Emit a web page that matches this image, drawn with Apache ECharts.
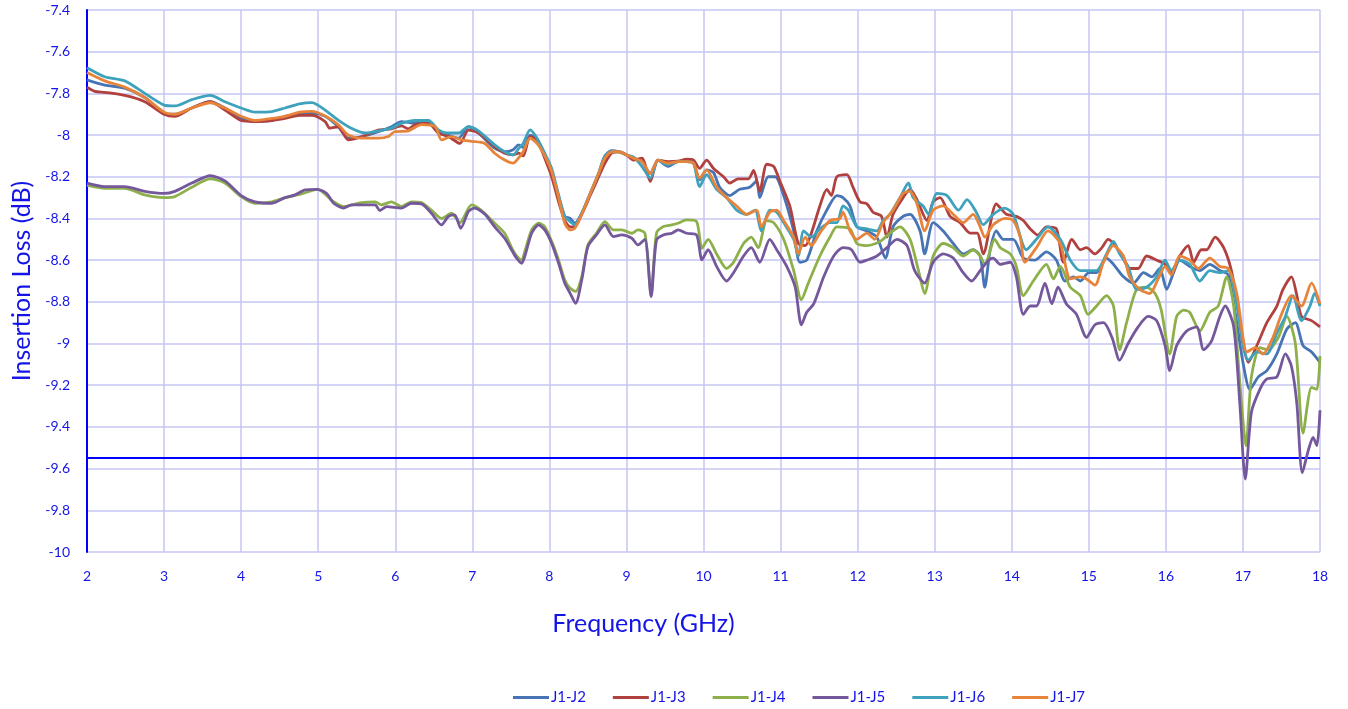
<!DOCTYPE html>
<html>
<head>
<meta charset="utf-8">
<script src="https://cdn.jsdelivr.net/npm/echarts@6/dist/echarts.min.js"></script>
<style>html,body{margin:0;padding:0;background:#fff}#c{width:1348px;height:709px}</style>
</head>
<body>
<div id="c"></div>
<script>
// ---- DATA ----
const seriesNames = ['J1-J2', 'J1-J3', 'J1-J4', 'J1-J5', 'J1-J6', 'J1-J7'];
const limitLoss = -9.55;
const xTicks = [2, 18, 1];
const yTicks = [-10, -7.4, 0.2];

const j2Freq = [2.0,2.23,2.49,2.75,3.0,3.14,3.36,3.6,3.79,4.0,4.18,4.4,4.57,4.76,4.92,5.09,5.26,5.39,5.56,5.78,5.95,6.08,6.26,6.43,6.56,6.69,6.82,6.95,7.08,7.29,7.42,7.53,7.6,7.66,7.75,7.84,7.94,8.03,8.12,8.2,8.27,8.33,8.42,8.53,8.64,8.72,8.81,8.9,9.0,9.09,9.2,9.31,9.41,9.54,9.67,9.78,9.87,9.95,10.04,10.13,10.21,10.34,10.47,10.6,10.69,10.73,10.84,10.93,11.04,11.17,11.25,11.34,11.47,11.6,11.73,11.81,11.9,11.99,12.12,12.25,12.36,12.46,12.59,12.68,12.81,12.87,12.98,13.11,13.24,13.37,13.5,13.59,13.65,13.72,13.8,13.89,14.02,14.15,14.3,14.45,14.58,14.69,14.8,14.89,15.0,15.1,15.23,15.32,15.45,15.58,15.71,15.82,15.92,16.01,16.1,16.18,16.31,16.44,16.57,16.7,16.81,16.92,17.0,17.09,17.2,17.31,17.44,17.57,17.68,17.78,17.89,18.0];
const j2Loss = [-7.735,-7.76,-7.775,-7.82,-7.895,-7.90,-7.87,-7.84,-7.87,-7.92,-7.935,-7.93,-7.91,-7.90,-7.895,-7.91,-7.96,-8.015,-8.008,-7.984,-7.96,-7.935,-7.944,-7.935,-7.984,-8.0,-8.015,-7.96,-7.99,-8.063,-8.08,-8.07,-8.047,-8.06,-8.0,-8.02,-8.10,-8.175,-8.295,-8.39,-8.40,-8.423,-8.375,-8.28,-8.183,-8.10,-8.075,-8.08,-8.095,-8.111,-8.127,-8.183,-8.12,-8.15,-8.127,-8.127,-8.135,-8.215,-8.167,-8.18,-8.25,-8.29,-8.26,-8.25,-8.22,-8.30,-8.20,-8.20,-8.29,-8.46,-8.61,-8.60,-8.46,-8.36,-8.29,-8.30,-8.34,-8.44,-8.46,-8.49,-8.59,-8.44,-8.39,-8.38,-8.46,-8.57,-8.42,-8.46,-8.52,-8.57,-8.55,-8.58,-8.73,-8.55,-8.46,-8.50,-8.50,-8.59,-8.60,-8.56,-8.60,-8.70,-8.68,-8.70,-8.66,-8.66,-8.59,-8.62,-8.68,-8.71,-8.66,-8.68,-8.64,-8.74,-8.66,-8.60,-8.63,-8.65,-8.62,-8.65,-8.67,-8.90,-9.09,-9.22,-9.16,-9.13,-9.05,-8.93,-8.90,-9.01,-9.04,-9.09];

const j3Freq = [2.0,2.1,2.23,2.49,2.75,3.0,3.14,3.36,3.6,3.79,4.0,4.18,4.4,4.57,4.76,4.92,5.09,5.15,5.26,5.39,5.56,5.78,5.95,6.08,6.17,6.26,6.43,6.56,6.69,6.84,6.95,7.08,7.29,7.42,7.53,7.6,7.66,7.75,7.84,7.94,8.03,8.12,8.2,8.27,8.33,8.42,8.53,8.64,8.72,8.81,8.9,9.0,9.09,9.2,9.31,9.41,9.54,9.67,9.78,9.87,9.95,10.04,10.13,10.26,10.34,10.45,10.58,10.65,10.73,10.82,10.91,10.99,11.12,11.23,11.32,11.4,11.51,11.6,11.66,11.73,11.86,11.94,12.03,12.12,12.2,12.31,12.38,12.46,12.59,12.68,12.77,12.9,12.98,13.07,13.2,13.33,13.46,13.55,13.63,13.8,13.93,14.06,14.15,14.24,14.34,14.45,14.58,14.67,14.78,14.89,14.97,15.08,15.17,15.25,15.32,15.43,15.53,15.64,15.75,15.88,15.99,16.07,16.18,16.29,16.36,16.46,16.53,16.64,16.75,16.85,16.94,17.0,17.07,17.18,17.31,17.44,17.52,17.63,17.7,17.76,17.89,18.0];
const j3Loss = [-7.77,-7.79,-7.795,-7.81,-7.84,-7.90,-7.91,-7.87,-7.84,-7.88,-7.93,-7.935,-7.93,-7.92,-7.905,-7.905,-7.935,-7.967,-7.96,-8.023,-8.008,-7.976,-7.97,-7.956,-7.97,-7.95,-7.944,-7.99,-8.007,-8.04,-7.976,-7.99,-8.055,-8.087,-8.095,-8.087,-8.10,-8.007,-8.023,-8.111,-8.20,-8.32,-8.41,-8.44,-8.44,-8.38,-8.29,-8.20,-8.135,-8.085,-8.08,-8.095,-8.12,-8.111,-8.223,-8.12,-8.127,-8.125,-8.116,-8.12,-8.16,-8.12,-8.16,-8.20,-8.23,-8.21,-8.21,-8.17,-8.27,-8.14,-8.15,-8.22,-8.34,-8.52,-8.53,-8.47,-8.34,-8.26,-8.29,-8.20,-8.19,-8.25,-8.32,-8.33,-8.37,-8.39,-8.49,-8.38,-8.30,-8.26,-8.31,-8.41,-8.32,-8.30,-8.39,-8.42,-8.47,-8.47,-8.57,-8.33,-8.38,-8.39,-8.41,-8.45,-8.48,-8.44,-8.45,-8.61,-8.50,-8.55,-8.54,-8.57,-8.54,-8.50,-8.52,-8.58,-8.64,-8.64,-8.58,-8.60,-8.62,-8.66,-8.58,-8.53,-8.61,-8.55,-8.55,-8.49,-8.54,-8.65,-8.84,-9.0,-9.09,-9.01,-8.90,-8.82,-8.74,-8.68,-8.77,-8.87,-8.89,-8.92];

const j4Freq = [2.0,2.23,2.49,2.75,3.0,3.14,3.36,3.6,3.79,4.0,4.18,4.4,4.57,4.76,4.99,5.2,5.33,5.56,5.74,5.82,5.95,6.08,6.21,6.34,6.47,6.6,6.73,6.84,6.99,7.12,7.29,7.42,7.51,7.575,7.64,7.68,7.77,7.86,7.94,8.03,8.12,8.2,8.27,8.34,8.42,8.5,8.61,8.72,8.83,8.94,9.07,9.15,9.24,9.32,9.39,9.48,9.59,9.67,9.78,9.91,9.98,10.06,10.17,10.3,10.39,10.52,10.62,10.71,10.82,10.91,11.04,11.17,11.27,11.36,11.51,11.64,11.73,11.9,11.99,12.12,12.29,12.42,12.55,12.68,12.79,12.87,12.98,13.11,13.24,13.37,13.5,13.59,13.65,13.78,13.85,13.98,14.06,14.15,14.28,14.45,14.54,14.63,14.76,14.89,14.99,15.1,15.23,15.32,15.4,15.49,15.62,15.75,15.86,15.94,16.05,16.14,16.23,16.31,16.44,16.57,16.68,16.79,16.88,16.96,17.04,17.11,17.22,17.33,17.46,17.57,17.68,17.78,17.89,17.96,18.0];
const j4Loss = [-8.24,-8.255,-8.255,-8.287,-8.30,-8.295,-8.25,-8.21,-8.23,-8.295,-8.327,-8.32,-8.30,-8.285,-8.26,-8.32,-8.343,-8.324,-8.32,-8.335,-8.32,-8.343,-8.32,-8.324,-8.36,-8.40,-8.375,-8.42,-8.335,-8.362,-8.423,-8.471,-8.54,-8.58,-8.60,-8.56,-8.455,-8.423,-8.44,-8.51,-8.60,-8.695,-8.735,-8.75,-8.68,-8.527,-8.471,-8.415,-8.455,-8.455,-8.471,-8.455,-8.471,-8.76,-8.471,-8.439,-8.431,-8.423,-8.407,-8.415,-8.543,-8.50,-8.57,-8.64,-8.61,-8.52,-8.49,-8.54,-8.41,-8.42,-8.50,-8.65,-8.79,-8.71,-8.58,-8.49,-8.44,-8.45,-8.52,-8.53,-8.51,-8.47,-8.44,-8.50,-8.65,-8.76,-8.58,-8.52,-8.54,-8.58,-8.55,-8.58,-8.62,-8.50,-8.54,-8.57,-8.63,-8.77,-8.70,-8.62,-8.69,-8.63,-8.73,-8.77,-8.86,-8.82,-8.77,-8.82,-9.03,-8.90,-8.74,-8.73,-8.76,-8.84,-9.05,-8.87,-8.84,-8.85,-8.94,-8.85,-8.82,-8.68,-8.82,-9.19,-9.49,-9.16,-9.02,-9.03,-8.97,-8.87,-9.0,-9.43,-9.21,-9.22,-9.06];

const j5Freq = [2.0,2.23,2.49,2.75,3.0,3.14,3.36,3.6,3.79,4.0,4.18,4.4,4.57,4.7,4.83,4.99,5.11,5.2,5.33,5.43,5.61,5.74,5.8,5.89,6.08,6.21,6.34,6.47,6.6,6.69,6.77,6.85,6.95,7.03,7.16,7.29,7.42,7.51,7.575,7.64,7.68,7.77,7.86,7.94,8.03,8.12,8.2,8.27,8.34,8.42,8.5,8.61,8.72,8.83,8.94,9.07,9.15,9.24,9.32,9.39,9.48,9.59,9.67,9.78,9.91,9.98,10.06,10.17,10.3,10.39,10.52,10.62,10.73,10.86,10.95,11.08,11.19,11.27,11.34,11.43,11.56,11.69,11.81,11.92,12.03,12.12,12.25,12.38,12.51,12.64,12.74,12.87,12.98,13.11,13.24,13.37,13.48,13.59,13.7,13.76,13.85,13.98,14.06,14.15,14.24,14.32,14.43,14.52,14.6,14.71,14.84,14.97,15.08,15.19,15.3,15.4,15.51,15.64,15.77,15.88,15.99,16.05,16.14,16.27,16.4,16.49,16.59,16.7,16.77,16.88,16.96,17.03,17.11,17.22,17.31,17.44,17.55,17.63,17.7,17.77,17.85,17.91,17.96,18.0];
const j5Loss = [-8.23,-8.247,-8.247,-8.27,-8.28,-8.27,-8.23,-8.195,-8.22,-8.29,-8.32,-8.327,-8.30,-8.287,-8.263,-8.26,-8.28,-8.327,-8.35,-8.335,-8.335,-8.335,-8.362,-8.343,-8.35,-8.327,-8.33,-8.375,-8.431,-8.39,-8.383,-8.447,-8.367,-8.35,-8.378,-8.44,-8.495,-8.551,-8.591,-8.615,-8.583,-8.471,-8.431,-8.455,-8.52,-8.615,-8.711,-8.759,-8.807,-8.695,-8.535,-8.479,-8.431,-8.487,-8.479,-8.495,-8.527,-8.50,-8.775,-8.503,-8.479,-8.471,-8.455,-8.471,-8.479,-8.599,-8.55,-8.63,-8.70,-8.66,-8.58,-8.54,-8.61,-8.50,-8.55,-8.63,-8.73,-8.91,-8.85,-8.81,-8.68,-8.58,-8.54,-8.55,-8.61,-8.60,-8.58,-8.54,-8.50,-8.53,-8.65,-8.71,-8.61,-8.57,-8.59,-8.66,-8.70,-8.65,-8.60,-8.59,-8.62,-8.61,-8.68,-8.86,-8.82,-8.82,-8.71,-8.81,-8.73,-8.81,-8.86,-8.97,-8.91,-8.90,-8.97,-9.08,-9.0,-8.92,-8.87,-8.89,-9.01,-9.13,-9.01,-8.94,-8.92,-9.03,-8.99,-8.87,-8.82,-8.92,-9.29,-9.65,-9.33,-9.22,-9.17,-9.16,-9.05,-9.11,-9.29,-9.62,-9.51,-9.45,-9.49,-9.32];

const j6Freq = [2.0,2.23,2.49,2.75,3.0,3.14,3.36,3.6,3.79,4.0,4.18,4.4,4.57,4.76,4.92,5.09,5.26,5.43,5.61,5.78,5.95,6.08,6.26,6.43,6.56,6.67,6.82,6.95,7.08,7.29,7.42,7.53,7.6,7.66,7.75,7.84,7.94,8.03,8.12,8.2,8.27,8.33,8.42,8.53,8.64,8.72,8.81,8.9,9.0,9.09,9.2,9.31,9.41,9.54,9.67,9.78,9.87,9.95,10.04,10.17,10.3,10.43,10.56,10.67,10.75,10.86,10.95,11.04,11.17,11.23,11.3,11.4,11.51,11.64,11.73,11.81,11.88,11.99,12.12,12.25,12.33,12.42,12.55,12.66,12.72,12.85,12.92,13.03,13.16,13.31,13.42,13.54,13.63,13.76,13.91,14.02,14.19,14.32,14.47,14.63,14.76,14.89,14.99,15.1,15.23,15.32,15.4,15.51,15.62,15.75,15.88,15.99,16.07,16.18,16.31,16.44,16.57,16.7,16.81,16.9,17.0,17.07,17.18,17.31,17.44,17.55,17.65,17.76,17.87,17.93,18.0];
const j6Loss = [-7.677,-7.72,-7.74,-7.80,-7.856,-7.86,-7.83,-7.81,-7.84,-7.87,-7.89,-7.887,-7.87,-7.85,-7.844,-7.88,-7.928,-7.967,-7.99,-7.98,-7.967,-7.944,-7.93,-7.93,-7.975,-7.99,-7.99,-7.96,-7.98,-8.047,-8.08,-8.095,-8.065,-8.04,-7.975,-8.015,-8.087,-8.16,-8.287,-8.39,-8.415,-8.43,-8.375,-8.28,-8.183,-8.10,-8.08,-8.08,-8.095,-8.105,-8.15,-8.207,-8.12,-8.143,-8.127,-8.127,-8.135,-8.247,-8.19,-8.26,-8.30,-8.36,-8.38,-8.36,-8.46,-8.36,-8.37,-8.42,-8.50,-8.58,-8.46,-8.49,-8.45,-8.42,-8.42,-8.34,-8.36,-8.44,-8.45,-8.46,-8.41,-8.38,-8.30,-8.23,-8.30,-8.34,-8.38,-8.28,-8.29,-8.36,-8.31,-8.37,-8.43,-8.38,-8.35,-8.38,-8.55,-8.50,-8.44,-8.50,-8.60,-8.65,-8.65,-8.65,-8.57,-8.51,-8.57,-8.63,-8.74,-8.73,-8.68,-8.60,-8.65,-8.60,-8.62,-8.70,-8.65,-8.66,-8.65,-8.77,-9.0,-9.08,-9.04,-9.05,-8.95,-8.87,-8.77,-8.89,-8.82,-8.76,-8.82];

const j7Freq = [2.0,2.23,2.49,2.75,3.0,3.14,3.36,3.6,3.79,4.0,4.18,4.4,4.57,4.76,4.92,5.09,5.26,5.39,5.56,5.78,5.91,5.99,6.17,6.34,6.52,6.6,6.73,6.86,6.99,7.16,7.29,7.42,7.53,7.6,7.66,7.75,7.84,7.94,8.03,8.12,8.2,8.27,8.33,8.42,8.53,8.64,8.72,8.81,8.9,9.0,9.09,9.2,9.31,9.41,9.54,9.67,9.78,9.87,9.95,10.04,10.17,10.3,10.43,10.56,10.69,10.75,10.86,10.95,11.04,11.17,11.23,11.32,11.4,11.51,11.64,11.77,11.81,11.9,11.99,12.12,12.22,12.33,12.46,12.59,12.68,12.77,12.87,12.98,13.11,13.24,13.37,13.5,13.59,13.65,13.76,13.91,14.02,14.11,14.17,14.32,14.47,14.63,14.76,14.89,14.97,15.08,15.19,15.32,15.45,15.53,15.66,15.79,15.9,15.99,16.07,16.18,16.31,16.42,16.57,16.7,16.81,16.92,17.0,17.05,17.16,17.26,17.39,17.5,17.63,17.76,17.89,18.0];
const j7Loss = [-7.70,-7.74,-7.77,-7.82,-7.89,-7.90,-7.87,-7.845,-7.87,-7.91,-7.93,-7.92,-7.91,-7.89,-7.886,-7.908,-7.95,-8.0,-8.015,-8.015,-8.007,-7.984,-7.98,-7.95,-7.96,-8.023,-8.007,-8.023,-8.03,-8.04,-8.087,-8.12,-8.135,-8.11,-8.08,-8.015,-8.04,-8.10,-8.175,-8.30,-8.423,-8.455,-8.447,-8.38,-8.28,-8.183,-8.111,-8.08,-8.08,-8.095,-8.111,-8.127,-8.183,-8.12,-8.135,-8.127,-8.127,-8.135,-8.207,-8.167,-8.25,-8.30,-8.34,-8.38,-8.36,-8.44,-8.37,-8.36,-8.41,-8.49,-8.57,-8.49,-8.53,-8.47,-8.41,-8.40,-8.37,-8.46,-8.50,-8.47,-8.50,-8.42,-8.36,-8.28,-8.27,-8.33,-8.46,-8.36,-8.34,-8.38,-8.42,-8.38,-8.44,-8.49,-8.43,-8.40,-8.41,-8.49,-8.61,-8.54,-8.46,-8.52,-8.69,-8.68,-8.69,-8.72,-8.61,-8.53,-8.58,-8.68,-8.74,-8.76,-8.69,-8.63,-8.67,-8.58,-8.60,-8.64,-8.59,-8.63,-8.64,-8.76,-8.97,-9.04,-9.02,-9.05,-8.97,-8.86,-8.77,-8.82,-8.71,-8.81];

const freqs = [j2Freq, j3Freq, j4Freq, j5Freq, j6Freq, j7Freq];
const losses = [j2Loss, j3Loss, j4Loss, j5Loss, j6Loss, j7Loss];
const colors = ['#4674B4', '#B0413E', '#8DB04B', '#74589B', '#3FA2BC', '#E8843A'];

// ---- CHART ----
const chart = echarts.init(document.getElementById('c'), null, {renderer: 'canvas'});
const FONT = 'Lato';
const BLUE = '#0000FF';
const TXT = '#1414E6';
const GRIDC = '#C6C6F4';

const series = seriesNames.map((name, i) => ({
  name,
  type: 'line',
  data: freqs[i].map((f, k) => [f, losses[i][k]]),
  symbol: 'none',
  smooth: 0.25,
  lineStyle: {width: 2.8, color: colors[i]},
  itemStyle: {color: colors[i]},
  z: 3 + i
}));
series[0].markLine = {
  silent: true,
  symbol: 'none',
  label: {show: false},
  lineStyle: {color: BLUE, width: 2, type: 'solid'},
  data: [{yAxis: limitLoss}],
  z: 2
};

chart.setOption({
  animation: false,
  backgroundColor: '#fff',
  grid: {left: 87, right: 28, top: 10, bottom: 157, containLabel: false},
  legend: {
    data: seriesNames.map(n => ({name: n, icon: 'rect'})),
    left: 513, top: 690, padding: 0,
    itemWidth: 36, itemHeight: 3, itemGap: 27,
    textStyle: {color: TXT, fontFamily: FONT, fontSize: 15, padding: [0, 0, 0, -3]}
  },
  xAxis: {
    type: 'value', min: xTicks[0], max: xTicks[1], interval: xTicks[2],
    name: 'Frequency (GHz)', nameLocation: 'middle', nameGap: 59,
    nameTextStyle: {color: TXT, fontFamily: FONT, fontSize: 25, padding: [0, 120, 0, 0]},
    axisLine: {show: false},
    axisTick: {show: false},
    axisLabel: {color: TXT, fontFamily: FONT, fontSize: 14, margin: 17},
    splitLine: {show: true, lineStyle: {color: GRIDC, width: 1.5}}
  },
  yAxis: {
    type: 'value', min: yTicks[0], max: yTicks[1], interval: yTicks[2],
    name: 'Insertion Loss (dB)', nameLocation: 'middle', nameGap: 51,
    nameTextStyle: {color: TXT, fontFamily: FONT, fontSize: 25},
    axisLine: {show: true, onZero: false, lineStyle: {color: BLUE, width: 2}},
    axisTick: {show: false},
    axisLabel: {color: TXT, fontFamily: FONT, fontSize: 14, margin: 17,
      formatter: v => String(parseFloat(v.toFixed(1)))},
    splitLine: {show: true, lineStyle: {color: GRIDC, width: 1.5}}
  },
  series
});
</script>
</body>
</html>
